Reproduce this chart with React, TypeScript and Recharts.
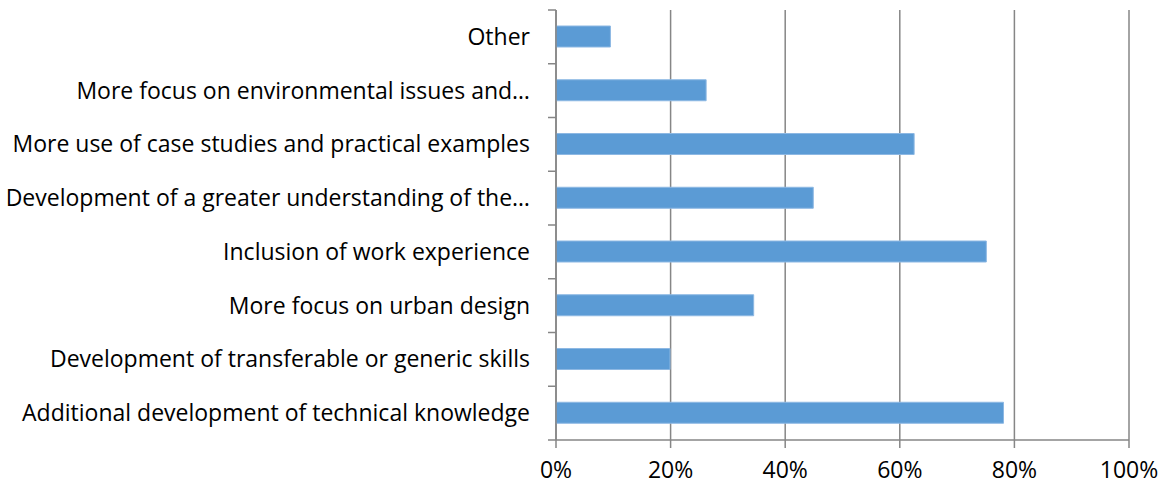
import React from 'react';
import { BarChart, Bar, XAxis, YAxis, CartesianGrid } from 'recharts';

const categories = [
  'Other',
  'More focus on environmental issues and…',
  'More use of case studies and practical examples',
  'Development of a greater understanding of the…',
  'Inclusion of work experience',
  'More focus on urban design',
  'Development of transferable or generic skills',
  'Additional development of technical knowledge',
];
const shares = [9.5, 26.2, 62.5, 44.9, 75.1, 34.5, 19.9, 78.1];
const xTicks = [0, 20, 40, 60, 80, 100];

const data = categories.map((name, i) => ({ name, value: shares[i] }));

const FONT = '"Open Sans", "Noto Sans", sans-serif';
const AXIS = '#868686';

// label at the band centre, tick mark at the band edges (like Excel)
function CategoryTick(props: any) {
  const { x, y, payload, index } = props;
  const half = (props.height ?? 430) / categories.length / 2;
  return (
    <g>
      <line x1={x + 18} x2={x + 26} y1={y - half} y2={y - half} stroke={AXIS} strokeWidth={1.5} />
      {index === categories.length - 1 && (
        <line x1={x + 18} x2={x + 26} y1={y + half} y2={y + half} stroke={AXIS} strokeWidth={1.5} />
      )}
      <text x={x} y={y} dy={8} textAnchor="end" fill="#000" fontSize={23} fontFamily={FONT}>
        {payload.value}
      </text>
    </g>
  );
}

function PercentTick(props: any) {
  const { x, y, payload } = props;
  return (
    <text x={x} y={y} dy={28} textAnchor="middle" fill="#000" fontSize={23} fontFamily={FONT}>
      {`${payload.value}%`}
    </text>
  );
}

export default function App() {
  return (
    <div style={{ position: 'absolute', left: 0, top: 0, background: '#fff' }}>
      <BarChart
        width={1167}
        height={488}
        data={data}
        layout="vertical"
        margin={{ top: 10, right: 38, bottom: 10, left: 0 }}
      >
        <CartesianGrid horizontal={false} stroke={AXIS} strokeWidth={1.5} />
        <XAxis
          type="number"
          domain={[0, 100]}
          ticks={xTicks}
          axisLine={{ stroke: AXIS, strokeWidth: 1.5 }}
          tickLine={{ stroke: AXIS, strokeWidth: 1.5 }}
          tickSize={8}
          height={38}
          tick={<PercentTick />}
        />
        <YAxis
          type="category"
          dataKey="name"
          width={556}
          axisLine={{ stroke: AXIS, strokeWidth: 1.5 }}
          tickLine={false}
          tickMargin={0}
          interval={0}
          tick={(p: any) => <CategoryTick {...p} x={530} height={430} />}
        />
        <Bar dataKey="value" barSize={21} fill="#5B9BD5" stroke="#8DB8E3" strokeWidth={1} isAnimationActive={false} />
      </BarChart>
    </div>
  );
}
